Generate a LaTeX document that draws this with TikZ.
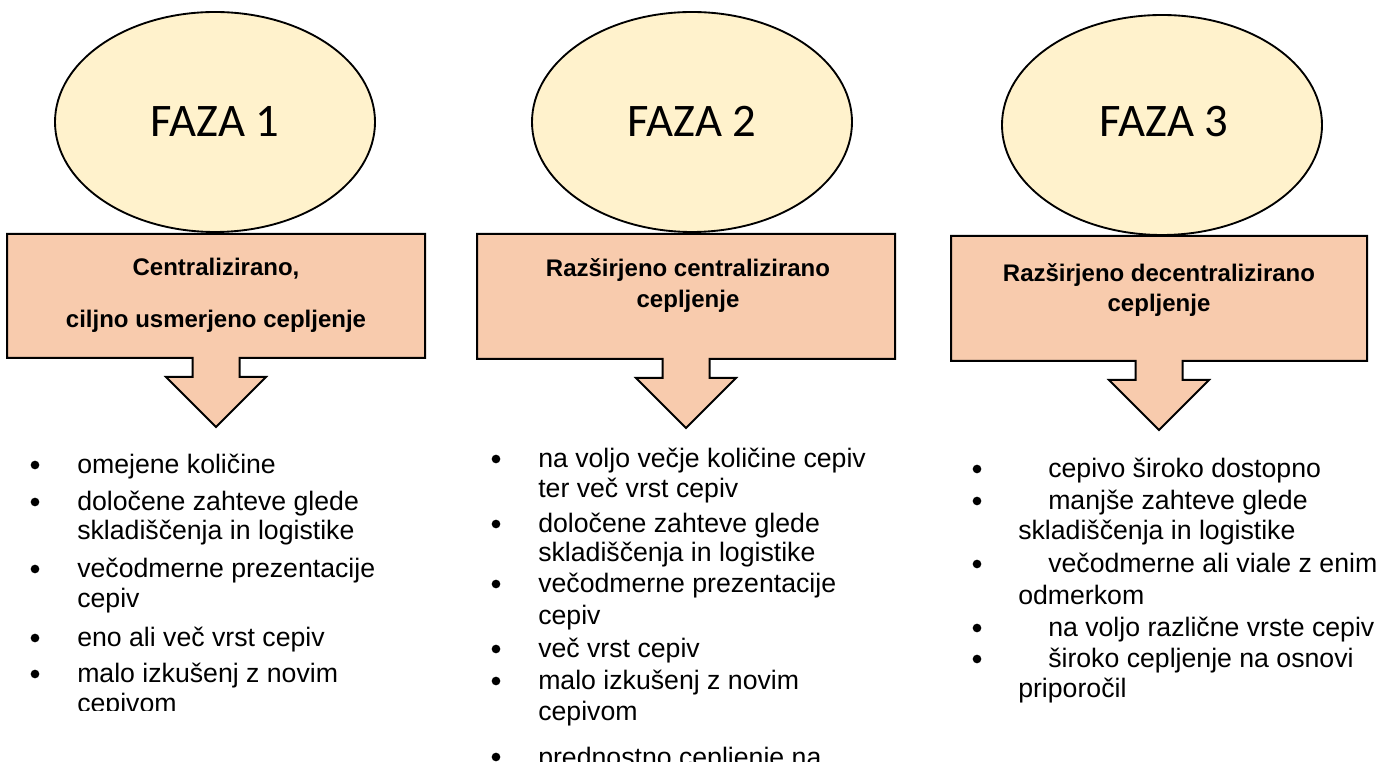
\documentclass[tikz,border=0pt]{standalone}
\usepackage{fontspec}
\setmainfont{Liberation Sans}
\newfontfamily\calib{Carlito}
\usetikzlibrary{shapes.geometric}
\definecolor{ellfill}{HTML}{FFF2CC}
\definecolor{boxfill}{HTML}{F8CBAD}
\newcommand{\callbox}[5]{% left, right, top, bottom, centre x
  \draw[callout] (#1,#3) -- (#2,#3) -- (#2,#4) -- (#5+23.5,#4) -- (#5+23.5,#4+19)
    -- (#5+50,#4+19) -- (#5,#4+69) -- (#5-50,#4+19) -- (#5-23.5,#4+19)
    -- (#5-23.5,#4) -- (#1,#4) -- cycle;}
\begin{document}
\begin{tikzpicture}[x=0.75pt,y=-0.75pt,
  phase/.style={ellipse, draw, line width=1.4pt, fill=ellfill, inner sep=0pt,
    minimum width=240pt, minimum height=165pt},
  phasetext/.style={anchor=base, inner sep=0pt, font=\calib\fontsize{35}{38}\selectfont},
  callout/.style={draw, line width=1.5pt, fill=boxfill, line join=miter},
  boxtext/.style={anchor=base, inner sep=0pt, font=\bfseries\fontsize{18}{21}\selectfont},
  li/.style={anchor=base west, inner sep=0pt, font=\fontsize{20}{24}\selectfont},
  bul/.style={circle, fill=black, inner sep=0pt, minimum size=6.5pt}]
\useasboundingbox (0,0) rectangle (1379,762);
\clip (0,0) rectangle (1379,762);

% phase ellipses
\node[phase] (f1) at (215,122) {};
\node[phase] (f2) at (692,122) {};
\node[phase] (f3) at (1162,125) {};
\node[phasetext] (ft1) at (215,137) {FAZA 1};
\node[phasetext] (ft2) at (692,137) {FAZA 2};
\node[phasetext] (ft3) at (1164,137) {FAZA 3};

% callout boxes with arrows
\callbox{7}{425}{234}{358}{216}
\callbox{477}{895}{234}{359}{686}
\callbox{951}{1367}{236}{361}{1159}

\node[boxtext] (t1a) at (216,276) {Centralizirano,};
\node[boxtext] (t1b) at (216,328) {ciljno usmerjeno cepljenje};
\node[boxtext] (t2a) at (688,277) {Razširjeno centralizirano};
\node[boxtext] (t2b) at (688,308) {cepljenje};
\node[boxtext] (t3a) at (1159,282) {Razširjeno decentralizirano};
\node[boxtext] (t3b) at (1159,312) {cepljenje};

% column 1
\begin{scope}
\clip (0,440) rectangle (460,711);
\foreach \y [count=\i] in {474,511,578,647,683} \node[bul] (b1\i) at (35,\y-9) {};
\node[li] (l1a) at (77,474) {omejene količine};
\node[li] (l1b) at (77,511) {določene zahteve glede};
\node[li] (l1c) at (77,540) {skladiščenja in logistike};
\node[li] (l1d) at (77,578) {večodmerne prezentacije};
\node[li] (l1e) at (77,608) {cepiv};
\node[li] (l1f) at (77,647) {eno ali več vrst cepiv};
\node[li] (l1g) at (77,683) {malo izkušenj z novim};
\node[li] (l1h) at (77,713) {cepivom};
\end{scope}

% column 2
\foreach \y [count=\i] in {468,533,593,658,690,766} \node[bul] (b2\i) at (496,\y-9) {};
\node[li] (l2a) at (538,468) {na voljo večje količine cepiv};
\node[li] (l2b) at (538,498) {ter več vrst cepiv};
\node[li] (l2c) at (538,533) {določene zahteve glede};
\node[li] (l2d) at (538,562) {skladiščenja in logistike};
\node[li] (l2e) at (538,593) {večodmerne prezentacije};
\node[li] (l2f) at (538,625) {cepiv};
\node[li] (l2g) at (538,658) {več vrst cepiv};
\node[li] (l2h) at (538,690) {malo izkušenj z novim};
\node[li] (l2i) at (538,720) {cepivom};
\node[li] (l2j) at (538,766) {prednostno cepljenje na};

% column 3
\foreach \y [count=\i] in {478,510,573,637,668} \node[bul] (b3\i) at (977,\y-9) {};
\node[li] (l3a) at (1048,478) {cepivo široko dostopno};
\node[li] (l3b) at (1048,510) {manjše zahteve glede};
\node[li] (l3c) at (1018,540) {skladiščenja in logistike};
\node[li] (l3d) at (1048,573) {večodmerne ali viale z enim};
\node[li] (l3e) at (1018,605) {odmerkom};
\node[li] (l3f) at (1048,637) {na voljo različne vrste cepiv};
\node[li] (l3g) at (1048,668) {široko cepljenje na osnovi};
\node[li] (l3h) at (1018,698) {priporočil};
\end{tikzpicture}
\end{document}
